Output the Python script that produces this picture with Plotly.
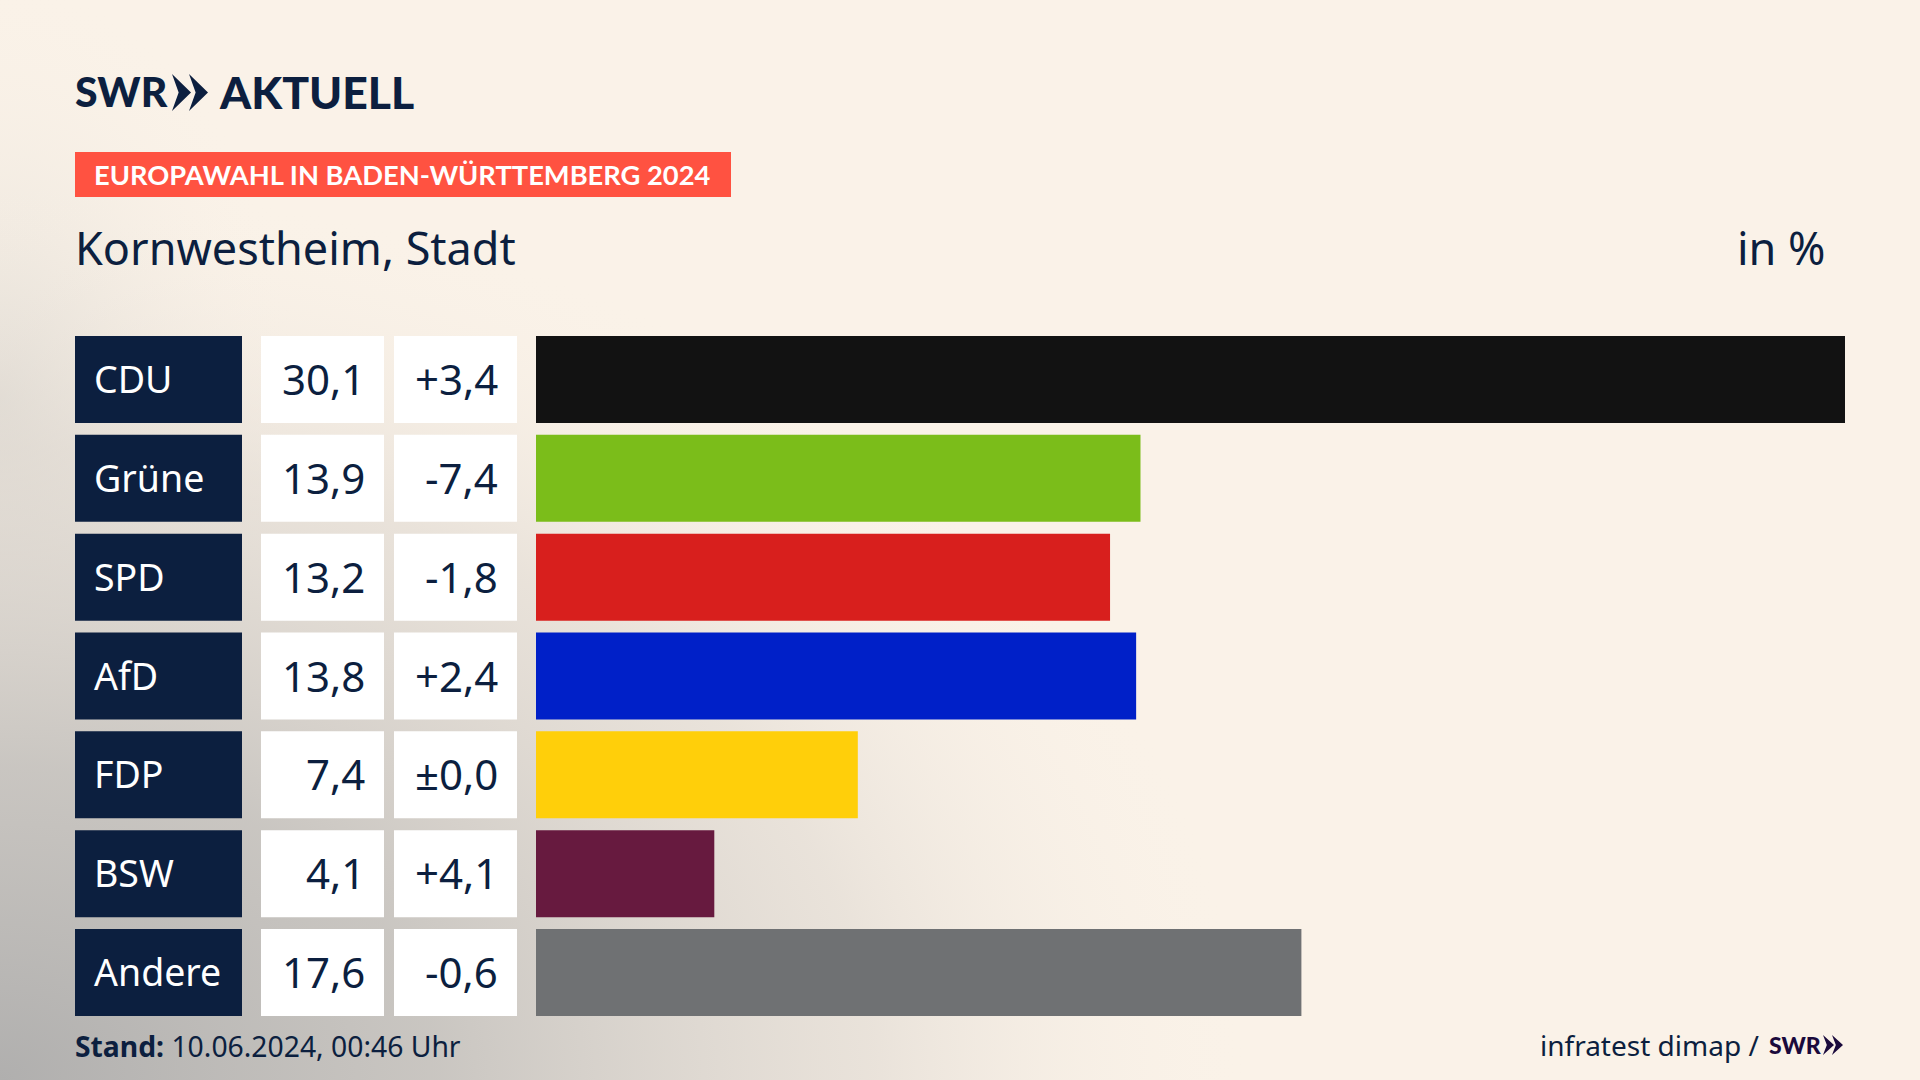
import base64
import plotly.graph_objects as go

# chart data
parties = ["CDU", "Grüne", "SPD", "AfD", "FDP", "BSW", "Andere"]
shares = [30.1, 13.9, 13.2, 13.8, 7.4, 4.1, 17.6]
changes = ["+3,4", "-7,4", "-1,8", "+2,4", "±0,0", "+4,1", "-0,6"]
bar_colors = ["#121212", "#7bbd1a", "#d81f1d", "#0020c8", "#ffcf0a", "#671a3f", "#6f7173"]

W, H = 1920, 1080
NAVY = "#0c1f3f"
BODY_FONT = "Noto Sans"
LOGO_FONT = "Lato"
HALF_ROW = 0.44


def px(x):
    return x / W


def py(y):
    return 1 - y / H


def chevrons(x0, y0, y1, width, step, color):
    # the two arrows of the SWR logo
    out = []
    ym = (y0 + y1) / 2
    for x in (x0, x0 + step):
        path = (f"M {px(x)},{py(y0)} L {px(x + width)},{py(ym)} L {px(x)},{py(y1)} "
                f"L {px(x + width * 0.35)},{py(ym)} Z")
        out.append(dict(type="path", xref="paper", yref="paper", path=path,
                        fillcolor=color, line_width=0))
    return out


def text(x, y, s, size, color=NAVY, anchor="left", family=BODY_FONT, weight=400, yref="paper", yshift=0):
    return dict(x=x, y=y, xref="paper", yref=yref, text=s, showarrow=False, xanchor=anchor,
                yanchor="middle", yshift=yshift, borderpad=0, borderwidth=0,
                font=dict(family=family, size=size, color=color, weight=weight))


def cell(x0, x1, row, color):
    return dict(type="rect", xref="paper", yref="y", x0=px(x0), x1=px(x1),
                y0=row - HALF_ROW, y1=row + HALF_ROW, fillcolor=color, line_width=0, layer="below")


background = f"""<svg xmlns="http://www.w3.org/2000/svg" width="{W}" height="{H}">
<defs>
<radialGradient id="a" gradientUnits="userSpaceOnUse" cx="0" cy="0" r="1"
 gradientTransform="translate(0 1080) scale(1250 900)">
<stop offset="0" stop-color="#b0afae" stop-opacity="1"/>
<stop offset="0.35" stop-color="#c4c1bd" stop-opacity="0.9"/>
<stop offset="0.7" stop-color="#dcd6cf" stop-opacity="0.55"/>
<stop offset="1" stop-color="#faf2e8" stop-opacity="0"/>
</radialGradient>
<radialGradient id="b" gradientUnits="userSpaceOnUse" cx="0" cy="0" r="1"
 gradientTransform="translate(0 400) scale(300 420)">
<stop offset="0" stop-color="#dcd8d1" stop-opacity="0.8"/>
<stop offset="1" stop-color="#faf2e8" stop-opacity="0"/>
</radialGradient>
</defs>
<rect width="{W}" height="{H}" fill="#faf2e8"/>
<rect width="{W}" height="{H}" fill="url(#b)"/>
<rect width="{W}" height="{H}" fill="url(#a)"/>
</svg>"""
background_uri = "data:image/svg+xml;base64," + base64.b64encode(background.encode()).decode()

fig = go.Figure()
fig.add_trace(go.Bar(y=parties, x=shares, orientation="h", width=2 * HALF_ROW,
                     marker=dict(color=bar_colors, line_width=0), hoverinfo="skip"))

shapes = [dict(type="rect", xref="paper", yref="paper", x0=px(75), x1=px(731),
               y0=py(152), y1=py(197), fillcolor="#ff5241", line_width=0)]
annotations = [
    text(px(75), py(92), "SWR", 41, family=LOGO_FONT, weight=900),
    text(px(219), py(92), "AKTUELL", 44.5, family=LOGO_FONT, weight=900),
    text(px(94), py(174.5), "EUROPAWAHL IN BADEN-WÜRTTEMBERG 2024", 27.3, color="#ffffff",
         family=LOGO_FONT, weight=700),
    text(px(75), py(247), "Kornwestheim, Stadt", 45),
    text(px(1826), py(247), "in %", 45, anchor="right"),
    text(px(75), py(1046), "<b>Stand:</b> 10.06.2024, 00:46 Uhr", 28.3),
    text(px(1540), py(1045), "infratest dimap /", 28),
    text(px(1769), py(1045), "SWR", 23, color="#1a0a3c", family=LOGO_FONT, weight=900),
]
shapes += chevrons(172, 74, 111, 19, 17, NAVY)
shapes += chevrons(1823, 1035, 1055, 11, 9, "#1a0a3c")

for i, party in enumerate(parties):
    shapes.append(cell(75, 242, i, NAVY))
    shapes.append(cell(261, 384, i, "#ffffff"))
    shapes.append(cell(394, 517, i, "#ffffff"))
    annotations.append(text(px(94), i, party, 37.5, color="#ffffff", yref="y", yshift=1))
    annotations.append(text(px(365), i, f"{shares[i]:.1f}".replace(".", ","), 42, anchor="right", yref="y", yshift=1))
    annotations.append(text(px(498), i, changes[i], 42, anchor="right", yref="y", yshift=1))

fig.update_layout(
    width=W, height=H, margin=dict(l=0, r=0, t=0, b=0), showlegend=False,
    paper_bgcolor="#faf2e8", plot_bgcolor="rgba(0,0,0,0)",
    xaxis=dict(domain=[px(536), px(1845)], range=[0, 30.1], visible=False),
    yaxis=dict(domain=[py(1016), py(336)], range=[6 + HALF_ROW, -HALF_ROW], type="category",
               categoryorder="array", categoryarray=parties, visible=False),
    shapes=shapes, annotations=annotations,
    images=[dict(source=background_uri, xref="paper", yref="paper", x=0, y=1, sizex=1, sizey=1,
                 sizing="stretch", xanchor="left", yanchor="top", layer="below")],
)

fig.write_html("out.html", config=dict(displayModeBar=False),
               post_script="document.body.style.margin='0';document.body.style.overflow='hidden';")
